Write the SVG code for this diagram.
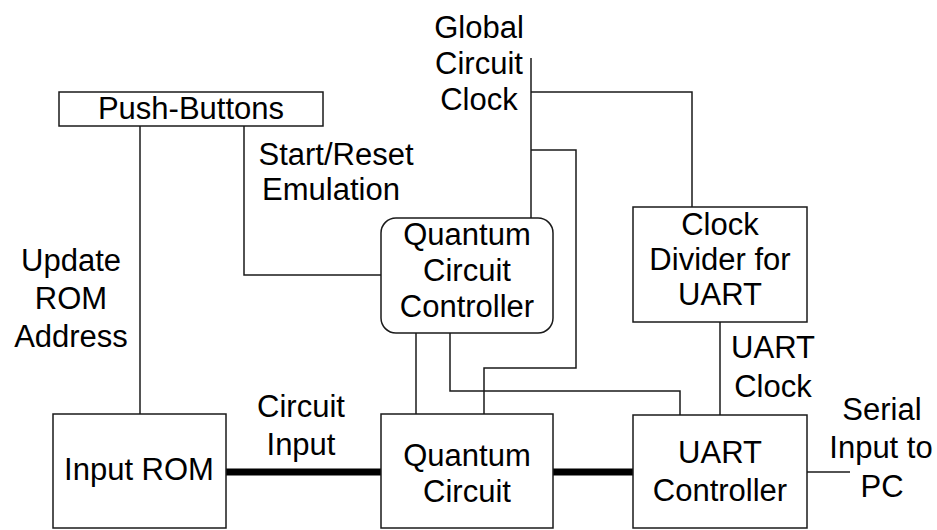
<svg xmlns="http://www.w3.org/2000/svg" width="937" height="530" viewBox="0 0 937 530">
<style>
.box{fill:#fff;stroke:#1a1a1a;stroke-width:1.5}
.ln{fill:none;stroke:#1a1a1a;stroke-width:1.5}
.bus{fill:none;stroke:#000;stroke-width:7;stroke-linecap:round}
text{font-family:"Liberation Sans",Arial,sans-serif;font-size:31px;fill:#000;text-anchor:middle}
</style>
<rect width="937" height="530" fill="#fff"/>
<g id="connectors">
<path class="ln" d="M140,126 V414"/>
<path class="ln" d="M244,126 V275 H381"/>
<path class="ln" d="M531,58 V218"/>
<path class="ln" d="M531,92 H692 V207"/>
<path class="ln" d="M531,150 H576 V368 H484 V414"/>
<path class="ln" d="M416,333 V414"/>
<path class="ln" d="M450,333 V391 H680 V415"/>
<path class="ln" d="M720,322 V415"/>
<path class="ln" d="M807,472 H850"/>
<path class="bus" d="M226,472 H381"/>
<path class="bus" d="M553,472 H633"/>
</g>
<g id="push-buttons">
<rect class="box" x="59" y="92" width="264" height="34"/>
<text x="191" y="119">Push-Buttons</text>
</g>
<g id="qcc">
<rect class="box" x="381" y="218" width="172" height="115" rx="15" ry="15"/>
<text x="467" y="245">Quantum</text>
<text x="467" y="281">Circuit</text>
<text x="467" y="317">Controller</text>
</g>
<g id="clock-divider">
<rect class="box" x="633" y="207" width="174" height="115"/>
<text x="720" y="235">Clock</text>
<text x="720" y="270">Divider for</text>
<text x="720" y="305">UART</text>
</g>
<g id="input-rom">
<rect class="box" x="53" y="414" width="173" height="114"/>
<text x="139" y="480">Input ROM</text>
</g>
<g id="quantum-circuit">
<rect class="box" x="381" y="414" width="172" height="114"/>
<text x="467" y="466">Quantum</text>
<text x="467" y="502">Circuit</text>
</g>
<g id="uart-controller">
<rect class="box" x="633" y="415" width="174" height="113"/>
<text x="720" y="463">UART</text>
<text x="720" y="501">Controller</text>
</g>
<g id="labels">
<text x="479" y="38">Global</text>
<text x="479" y="74">Circuit</text>
<text x="479" y="110">Clock</text>
<text x="336" y="165">Start/Reset</text>
<text x="331" y="200">Emulation</text>
<text x="71" y="271">Update</text>
<text x="71" y="309">ROM</text>
<text x="71" y="347">Address</text>
<text x="301" y="417">Circuit</text>
<text x="301" y="455">Input</text>
<text x="773" y="358">UART</text>
<text x="773" y="397">Clock</text>
<text x="882" y="420">Serial</text>
<text x="881" y="458">Input to</text>
<text x="882" y="497">PC</text>
</g>
</svg>
